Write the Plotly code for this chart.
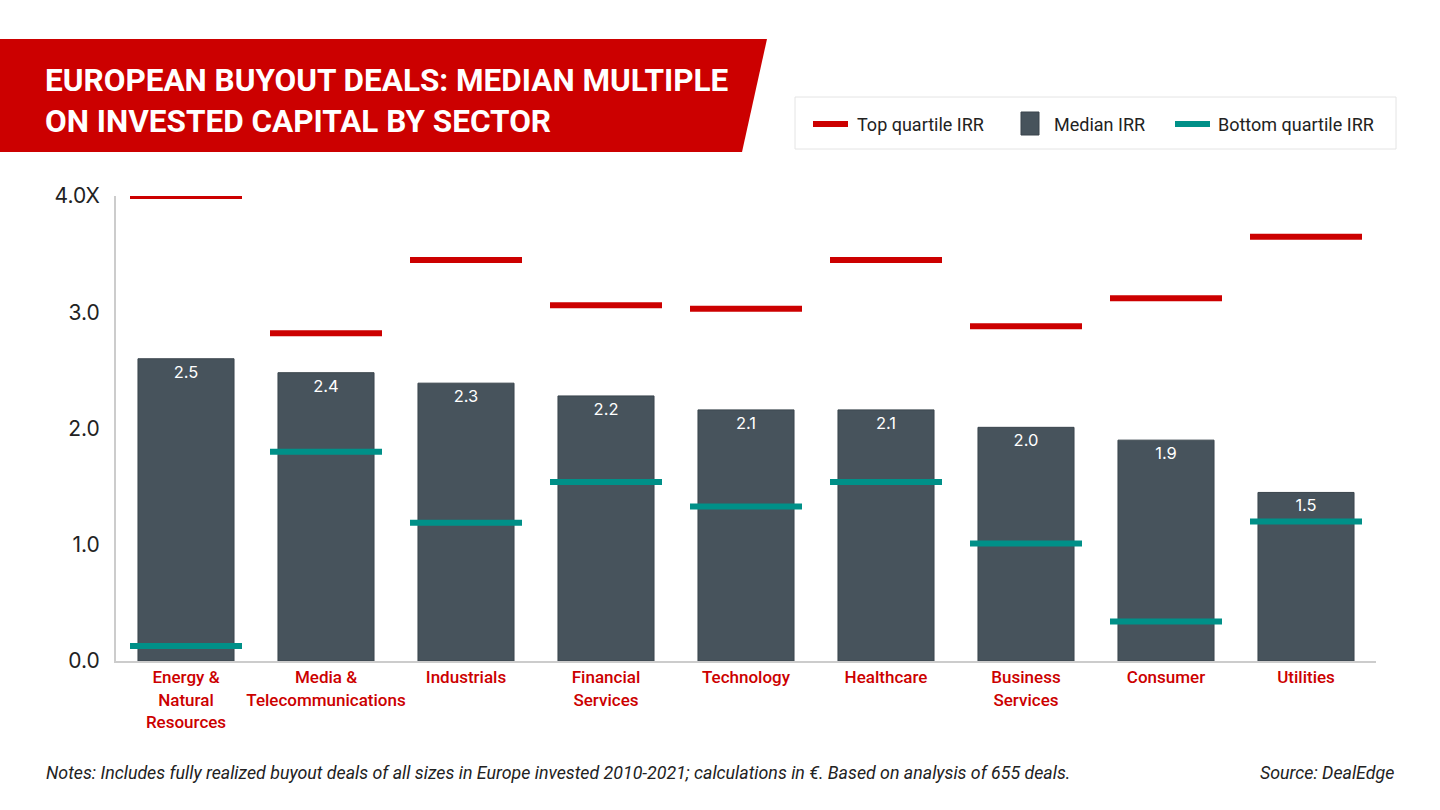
import plotly.graph_objects as go

sectors = ["Energy &<br>Natural<br>Resources", "Media &<br>Telecommunications", "Industrials",
           "Financial<br>Services", "Technology", "Healthcare", "Business<br>Services",
           "Consumer", "Utilities"]
median_irr = [2.60, 2.48, 2.39, 2.28, 2.16, 2.16, 2.01, 1.90, 1.45]
median_lbl = ["2.5", "2.4", "2.3", "2.2", "2.1", "2.1", "2.0", "1.9", "1.5"]
top_irr = [4.0, 2.82, 3.45, 3.06, 3.03, 3.45, 2.88, 3.12, 3.65]
bottom_irr = [0.13, 1.80, 1.19, 1.54, 1.33, 1.54, 1.01, 0.34, 1.20]
ytick_vals = [0, 1, 2, 3, 4]
ytick_text = ["0.0", "1.0", "2.0", "3.0", "4.0X"]

RED = "#cc0000"
TEAL = "#009088"
SLATE = "#47535c"
INK = "#222222"

# plot area in pixels
L, R, T, B = 116, 64, 196, 149
W, H = 1440, 810
pw, ph = W - L - R, H - T - B


def px(x):
    return (x - L) / pw


def py(y):
    return (H - B - y) / ph


xs = list(range(len(sectors)))


def dash_xy(vals, half=0.4):
    dx, dy = [], []
    for i, v in zip(xs, vals):
        dx += [i - half, i + half, None]
        dy += [v, v, None]
    return dx, dy


fig = go.Figure()
fig.add_bar(x=xs, y=median_irr, width=0.686, name="Median IRR",
            marker=dict(color=SLATE, line=dict(color="#3a454d", width=1)),
            text=median_lbl, textposition="inside", insidetextanchor="end",
            textfont=dict(color="white", size=16.5, family="Inter"))
tx, ty = dash_xy(top_irr)
fig.add_scatter(x=tx, y=ty, mode="lines", name="Top quartile IRR",
                line=dict(color=RED, width=6), cliponaxis=False)
bx, by = dash_xy(bottom_irr)
fig.add_scatter(x=bx, y=by, mode="lines", name="Bottom quartile IRR",
                line=dict(color=TEAL, width=6), cliponaxis=False)

# red title banner
fig.add_shape(type="path", xref="paper", yref="paper", layer="below",
              path=f"M {px(0)},{py(39)} L {px(767)},{py(39)} L {px(742)},{py(152)} L {px(0)},{py(152)} Z",
              fillcolor=RED, line=dict(width=0))
fig.add_annotation(xref="paper", yref="paper", x=px(43), y=py(60), xanchor="left", yanchor="top",
                   align="left", showarrow=False,
                   text="<b>EUROPEAN BUYOUT DEALS: MEDIAN MULTIPLE<br>ON INVESTED CAPITAL BY SECTOR</b>",
                   font=dict(family="Roboto", size=31.5, color="white"))

# legend box drawn by hand
fig.add_shape(type="rect", xref="paper", yref="paper", x0=px(795), x1=px(1396), y0=py(97), y1=py(149),
              line=dict(color="#e4e4e4", width=1), fillcolor="white")
fig.add_shape(type="line", xref="paper", yref="paper", x0=px(813), x1=px(848), y0=py(124), y1=py(124),
              line=dict(color=RED, width=6))
fig.add_shape(type="rect", xref="paper", yref="paper", x0=px(1021), x1=px(1039), y0=py(112), y1=py(135),
              line=dict(color="#3a454d", width=1), fillcolor=SLATE)
fig.add_shape(type="line", xref="paper", yref="paper", x0=px(1175), x1=px(1210), y0=py(124), y1=py(124),
              line=dict(color=TEAL, width=6))
for lx, lt in [(855, "Top quartile IRR"), (1052, "Median IRR"), (1216, "Bottom quartile IRR")]:
    fig.add_annotation(xref="paper", yref="paper", x=px(lx), y=py(124), xanchor="left", yanchor="middle",
                       showarrow=False, text=lt, font=dict(family="Roboto", size=18, color=INK))

fig.add_annotation(xref="paper", yref="paper", x=px(44), y=py(772), xanchor="left", yanchor="middle",
                   showarrow=False,
                   text="<i>Notes: Includes fully realized buyout deals of all sizes in Europe invested 2010-2021; calculations in €. Based on analysis of 655 deals.</i>",
                   font=dict(family="Roboto", size=17.8, color=INK))
fig.add_annotation(xref="paper", yref="paper", x=px(1396), y=py(772), xanchor="right", yanchor="middle",
                   showarrow=False, text="<i>Source: DealEdge</i>",
                   font=dict(family="Roboto", size=17.8, color=INK))

fig.update_layout(
    width=W, height=H,
    margin=dict(l=L, r=R, t=T, b=B),
    paper_bgcolor="white", plot_bgcolor="white",
    barmode="overlay",
    showlegend=False,
    hovermode=False,
    xaxis=dict(range=[-0.5, len(sectors) - 0.5], tickvals=xs, ticktext=sectors,
               showgrid=False, zeroline=False, showline=True, linecolor="#cccccc", linewidth=2,
               ticks="", tickfont=dict(family="Roboto", size=17, color=RED, weight=500)),
    yaxis=dict(range=[0, 4.0], tickvals=ytick_vals, ticktext=ytick_text,
               showgrid=False, zeroline=False, showline=True, linecolor="#cccccc", linewidth=2,
               ticks="", ticklabelstandoff=10,
               tickfont=dict(family="Inter", size=21, color=INK)),
)

fig.write_html("out.html", config={"displayModeBar": False},
               post_script="document.body.style.margin='0';")
